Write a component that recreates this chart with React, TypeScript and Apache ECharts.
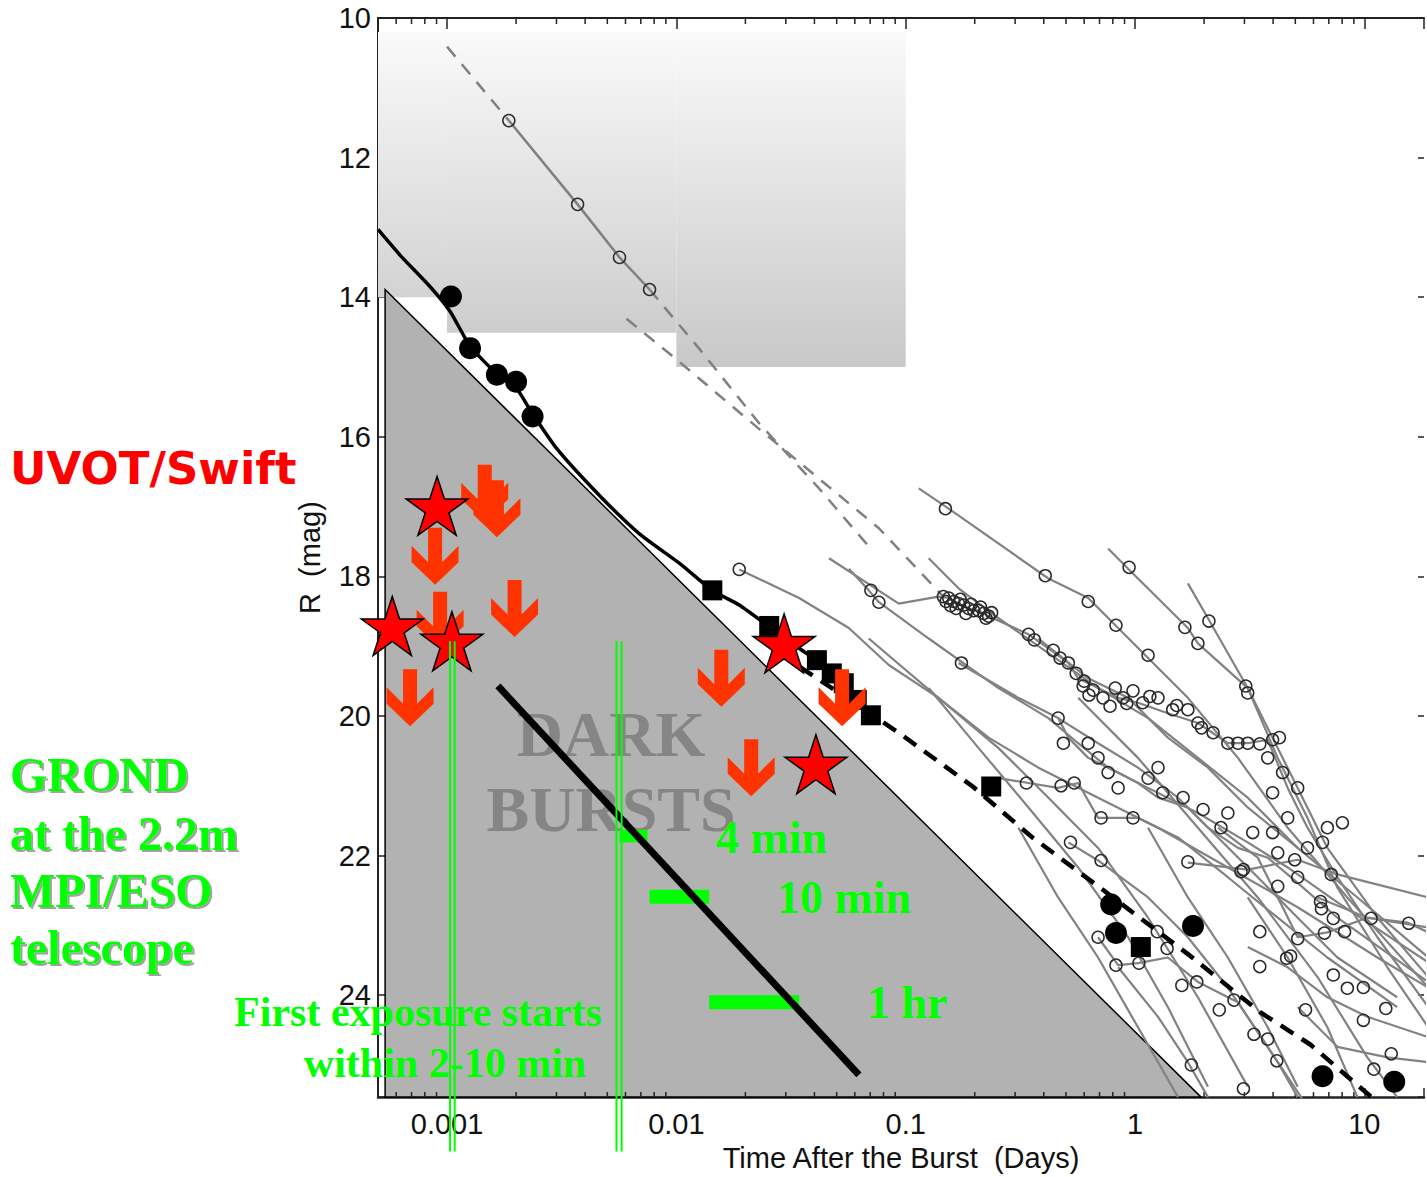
import React, { useEffect, useRef } from 'react';
import * as echarts from 'echarts';

// ---------- axis ranges ----------
const X_MIN = 0.0005;
const X_MAX = 18.2;
const Y_MIN = 10;
const Y_MAX = 25.46;
const GREEN_LINE_BOTTOM = 26.24;

// ---------- data (days after burst, R mag) ----------
const uvotBoxes = [
  // [tStart, tEnd, magTop, magBottom]
  [0.0005, 0.001, 10.2, 14.0],
  [0.001, 0.01, 10.2, 14.51],
  [0.01, 0.1, 10.2, 15.0],
];

const darkTriangle = [
  [0.000537, 13.89],
  [0.000537, 25.46],
  [1.94, 25.46],
];

const brightCurve = [
  [0.0005, 13.03], [0.000625, 13.4], [0.000844, 13.85], [0.00103, 14.2], [0.00126, 14.7],
  [0.00165, 15.1], [0.002, 15.3], [0.00236, 15.67], [0.00301, 16.17], [0.00462, 16.84],
  [0.0069, 17.39], [0.0103, 17.81], [0.01435, 18.2], [0.0188, 18.41], [0.0249, 18.7],
  [0.0343, 19.03], [0.0463, 19.34], [0.0612, 19.74], [0.0705, 20.0],
];
const brightDashed = [
  [0.0281, 19.1], [0.0933, 20.24], [0.196, 21.01], [0.357, 21.74], [0.704, 22.46],
  [1.73, 23.43], [3.5, 24.24], [5.83, 24.71], [11.0, 25.49],
];
const brightDots = [
  [0.00104, 13.99], [0.00126, 14.73], [0.00165, 15.11], [0.002, 15.21], [0.00236, 15.71],
  [0.787, 22.7], [0.826, 23.11], [1.79, 23.01], [6.57, 25.16], [13.5, 25.24],
];
const brightSquares = [
  [0.01435, 18.2], [0.0254, 18.71], [0.041, 19.2], [0.0476, 19.39], [0.0537, 19.53],
  [0.0612, 19.77], [0.0705, 19.99], [0.236, 21.01], [1.06, 23.31],
];

const uvotDashA1 = [[0.001, 10.41], [0.00186, 11.47]];
const uvotSolidA = [[0.00186, 11.47], [0.00371, 12.67], [0.00565, 13.43], [0.00764, 13.89]];
const uvotDashA2 = [[0.00764, 13.89], [0.0126, 14.74], [0.023, 15.81], [0.0419, 16.74], [0.069, 17.57]];
const uvotDashB = [[0.00606, 14.31], [0.01, 14.89], [0.023, 15.89], [0.0419, 16.6], [0.0764, 17.31], [0.146, 18.29]];

const grayCurves = [
  [[0.114, 16.74], [0.154, 17.03], [0.419, 18.03], [0.625, 18.31], [0.844, 18.74], [1.14, 19.17], [1.7, 19.74], [2.81, 20.6], [4.63, 21.6], [8.43, 22.6], [19, 23.89]],
  [[0.763, 17.6], [0.933, 17.89], [1.7, 18.74], [1.88, 18.96], [3.1, 19.6], [4.19, 20.46], [5.12, 21.03], [6.9, 21.89], [11.4, 22.89], [19, 23.74]],
  [[1.7, 18.1], [2.08, 18.6], [3.1, 19.6], [4.19, 20.6], [5.65, 21.46], [7.63, 22.46], [12.6, 23.6], [19, 24.46]],
  [[0.0463, 17.74], [0.0933, 18.39], [0.139, 18.29], [0.154, 18.31], [0.17, 18.39], [0.188, 18.46], [0.208, 18.49], [0.23, 18.57], [0.343, 18.83], [0.419, 19.03], [0.512, 19.24], [0.565, 19.46], [0.69, 19.6], [0.844, 19.74], [1.03, 19.81], [1.39, 19.96], [1.88, 20.1], [2.54, 20.39], [3.1, 20.39], [3.79, 20.34], [4.63, 21.03], [5.65, 21.6], [7.63, 22.31], [11.4, 23.17], [19, 24.17]],
  [[0.0188, 17.9], [0.0343, 18.31], [0.0565, 18.74], [0.0844, 19.27], [0.139, 19.74], [0.23, 20.31], [0.379, 20.74], [0.69, 21.17], [1.26, 21.6], [2.54, 22.17], [5.12, 22.74], [11.4, 23.46], [19, 23.89]],
  [[0.0565, 17.89], [0.069, 18.2], [0.0764, 18.37], [0.126, 18.89], [0.254, 19.6], [0.419, 20.03], [0.565, 20.39], [0.763, 20.74], [1.14, 21.03], [1.88, 21.39], [3.1, 21.81], [4.63, 22.17], [7.63, 22.67], [19, 23.53]],
  [[0.17, 19.24], [0.31, 19.74], [0.462, 20.03], [0.69, 20.39], [1.03, 20.74], [1.54, 21.17], [2.3, 21.74], [3.43, 22.31], [5.12, 22.89], [7.63, 23.46], [13.9, 24.03]],
  [[0.462, 20.03], [0.512, 20.31], [0.625, 20.6], [0.844, 20.81], [1.03, 20.96], [1.26, 21.17], [1.7, 21.31], [2.08, 21.6], [2.81, 21.89], [3.79, 22.03], [5.12, 22.39], [7.63, 22.89], [19, 23.81]],
  [[0.126, 19.6], [0.208, 20.46], [0.343, 21.31], [0.565, 22.17], [0.933, 23.17], [1.39, 24.17], [2.08, 25.31]],
  [[0.069, 18.89], [0.139, 19.74], [0.254, 20.46], [0.419, 21.17], [0.69, 21.89], [1.14, 22.89], [1.88, 24.03], [3.1, 25.31]],
  [[0.254, 20.89], [0.343, 20.96], [0.462, 21.03], [0.565, 20.96], [0.69, 21.46], [1.03, 21.46], [1.54, 21.74], [2.54, 22.31], [4.19, 22.89], [6.9, 23.46], [13.9, 24.17]],
  [[0.512, 21.81], [0.69, 22.07], [1.14, 22.6], [1.7, 23.17], [2.54, 23.89], [3.43, 24.53], [4.63, 25.17], [5.65, 25.6]],
  [[0.69, 23.17], [0.844, 23.57], [1.03, 23.54], [1.39, 23.46], [1.88, 23.81], [2.81, 24.1], [4.19, 24.96], [5.12, 25.46]],
  [[0.844, 23.6], [1.26, 24.31], [1.7, 24.96], [2.08, 25.46]],
  [[1.7, 22.1], [3.1, 22.2], [5.12, 22.06], [7.63, 22.27], [19, 22.6]],
  [[2.3, 21.6], [3.43, 22.03], [5.12, 23.17], [6.9, 23.1], [10.3, 22.89], [19, 23.03]],
  [[3.1, 23.31], [4.63, 23.6], [6.9, 24.03], [10.3, 24.31], [19, 24.6]],
  [[5.12, 24.17], [7.63, 24.74], [12.6, 24.89], [19, 24.96]],
  [[6.25, 22.6], [10.3, 22.89], [15.4, 22.96], [19, 23.1]],
  [[0.31, 21.6], [0.462, 22.6], [0.69, 23.46], [1.03, 24.46], [1.54, 25.46]],
  [[1.14, 21.6], [1.7, 22.6], [2.54, 23.46], [3.79, 24.46], [5.12, 25.31]],
  [[3.1, 22.6], [4.63, 23.46], [6.9, 24.46], [9.33, 25.46]],
  [[0.126, 17.74], [0.17, 18.17], [0.254, 18.6], [0.419, 19.1], [0.69, 19.6], [1.14, 20.03], [1.88, 20.6], [3.1, 21.17], [5.12, 21.89]],
  [[0.379, 18.89], [0.625, 19.46], [0.933, 19.74], [1.39, 20.31], [2.08, 20.74], [3.1, 21.31], [5.12, 21.89], [9.33, 22.6], [19, 23.46]],
  [[0.565, 19.74], [1.03, 20.6], [1.88, 21.6], [3.43, 22.6], [6.25, 23.74], [10.3, 24.89], [13.9, 25.46]],
];

const openCircles = [
  [0.00186, 11.47], [0.00371, 12.67], [0.00565, 13.43], [0.00764, 13.89],
  [0.149, 17.03], [0.406, 17.99], [0.625, 18.36], [0.826, 18.7], [1.14, 19.13], [0.942, 17.87],
  [1.65, 18.73], [1.88, 18.96], [2.1, 18.64], [3.04, 19.57], [3.1, 19.67], [0.0188, 17.9],
  [0.0705, 18.2], [0.0764, 18.37],
  [0.146, 18.29], [0.154, 18.31], [0.162, 18.36], [0.17, 18.39], [0.179, 18.41], [0.188, 18.46],
  [0.198, 18.49], [0.208, 18.49], [0.219, 18.53], [0.23, 18.57], [0.15, 18.36], [0.166, 18.46], [0.183, 18.53],
  [0.343, 18.83], [0.364, 18.91], [0.44, 19.06], [0.471, 19.17], [0.512, 19.24], [0.554, 19.39],
  [0.594, 19.57], [0.657, 19.63], [0.725, 19.74], [0.778, 19.86], [0.887, 19.74], [0.98, 19.64],
  [1.08, 19.81], [1.26, 19.74], [1.46, 19.91], [1.7, 19.91], [1.88, 20.1], [2.19, 20.24],
  [2.54, 20.39], [2.81, 20.39], [3.1, 20.39], [3.5, 20.4], [3.98, 20.34], [4.26, 20.31],
  [3.79, 20.6], [4.4, 20.81], [5.12, 21.03], [3.98, 21.1], [4.63, 21.46], [5.65, 21.89],
  [6.57, 21.81], [6.9, 21.6], [8.02, 21.53],
  [0.175, 19.24], [0.336, 20.96], [0.476, 21.0], [0.543, 20.96], [0.711, 21.46], [0.98, 21.46],
  [1.26, 20.74], [0.523, 21.81], [0.711, 22.07], [1.7, 22.09], [2.97, 22.2], [4.97, 22.06],
  [2.37, 21.6], [4.19, 21.96], [5.12, 22.31], [0.69, 23.17], [0.826, 23.57], [1.04, 23.54],
  [1.25, 23.09], [1.38, 23.33], [1.6, 23.86], [1.86, 23.81], [2.33, 24.21], [2.7, 24.07],
  [3.3, 24.56], [3.79, 24.63], [4.15, 24.94], [1.76, 25.0], [2.97, 25.34], [3.5, 23.59],
  [4.77, 23.44], [5.54, 24.21], [7.32, 23.71], [8.43, 23.9], [9.9, 23.89], [9.9, 24.36],
  [12.4, 24.19], [13.1, 24.84], [11.0, 25.06], [15.6, 22.97], [10.7, 22.9], [8.2, 23.09],
  [6.7, 23.11], [7.32, 22.9], [5.12, 23.19], [4.58, 23.47], [6.44, 22.66], [6.5, 22.76],
  [3.5, 23.09], [2.9, 22.23], [4.19, 22.44], [7.17, 22.27],
  [1.14, 20.89], [1.32, 21.1], [1.62, 21.17], [1.98, 21.34], [2.54, 21.39], [3.26, 21.67], [3.98, 21.67],
  [0.462, 20.03], [0.487, 20.39], [0.625, 20.39], [0.69, 20.6], [0.763, 20.81], [0.844, 21.03],
  [0.157, 18.42], [0.173, 18.33], [0.193, 18.4], [0.212, 18.44], [0.224, 18.6], [0.237, 18.52],
  [0.6, 19.5], [0.63, 19.7], [0.82, 19.6], [0.92, 19.82], [1.16, 19.72], [1.52, 19.85], [1.95, 20.17],
];

const uvotUpperLimits = [
  [0.00146, 16.81], [0.00165, 17.03], [0.000887, 17.71], [0.000933, 18.63], [0.00197, 18.46],
  [0.00069, 19.74], [0.0157, 19.46], [0.0212, 20.74], [0.0528, 19.74],
];
const uvotDetections = [
  [0.000905, 16.99], [0.000577, 18.71], [0.00105, 18.93], [0.0295, 18.96], [0.0406, 20.69],
];

const darkLine = [[0.001667, 19.57], [0.0625, 25.14]];
const exposureBars = [
  // [tStart, tEnd, magTop, magBottom]
  [0.00565, 0.00748, 21.63, 21.81],
  [0.00764, 0.0139, 22.49, 22.69],
  [0.0139, 0.0343, 24.0, 24.2],
];
const exposureStartLines = [
  [0.00103, 18.93], [0.00108, 18.93], [0.00548, 18.93], [0.00577, 18.93],
];

const minorTickValues: number[] = [];
for (let e = -4; e <= 1; e++) {
  for (let m = 2; m <= 9; m++) {
    const v = m * Math.pow(10, e);
    if (v > X_MIN && v < X_MAX) minorTickValues.push(v);
  }
}

const STAR_PATH =
  'path://M0,-50 L11.23,-15.45 L47.55,-15.45 L18.17,5.9 L29.39,40.45 L0,19.1 L-29.39,40.45 L-18.17,5.9 L-47.55,-15.45 L-11.23,-15.45 Z';
const ARROW_PATH =
  'path://M-7,-28.5 L7,-28.5 L7,6 L23.5,-10.5 L23.5,6 L0,28.5 L-23.5,6 L-23.5,-10.5 L-7,6 Z';

const boxBottomColors = ['#d3d3d3', '#cdcdcd', '#c8c8c8'];

function xLabel(v: number): string {
  const l = Math.log10(v);
  const r = Math.round(l);
  if (Math.abs(l - r) > 1e-6) return '';
  return r >= 0 ? String(Math.round(Math.pow(10, r))) : Math.pow(10, r).toFixed(-r);
}

function txt(text: string, x: number, y: number, font: string, fill: string, align: string, z: number, shadow = false) {
  const style: any = {
    text, font, fill,
    align, verticalAlign: 'middle',
    textAlign: align, textVerticalAlign: 'middle',
  };
  if (shadow) {
    style.textShadowColor = 'rgba(120,120,120,0.7)';
    style.textShadowOffsetX = 2;
    style.textShadowOffsetY = 2;
    style.textShadowBlur = 1;
  }
  return { type: 'text', x, y, z, style };
}

export default function App() {
  const ref = useRef<HTMLDivElement>(null);

  useEffect(() => {
    if (!ref.current) return;
    const chart = echarts.init(ref.current, null, { renderer: 'svg' });
    const axisFont = { fontFamily: '"Liberation Sans", Arial, sans-serif', fontSize: 29, color: '#111' };

    const option: any = {
      animation: false,
      backgroundColor: '#ffffff',
      grid: { left: 378, top: 18, width: 1049, height: 1082, containLabel: false },
      xAxis: [
        {
          type: 'log', logBase: 10, min: X_MIN, max: X_MAX, position: 'bottom',
          name: 'Time After the Burst \u00a0(Days)', nameLocation: 'middle', nameGap: 44,
          nameTextStyle: { ...axisFont },
          axisLine: { show: true, onZero: false, lineStyle: { color: '#222', width: 2.5 } },
          axisTick: { show: true, inside: true, length: 9, lineStyle: { color: '#222', width: 1.5 } },
          axisLabel: { ...axisFont, margin: 12, formatter: xLabel },
          splitLine: { show: false },
          minorTick: { show: false },
        },
        {
          type: 'log', logBase: 10, min: X_MIN, max: X_MAX, position: 'top',
          axisLine: { show: true, onZero: false, lineStyle: { color: '#222', width: 2 } },
          axisTick: { show: true, inside: true, length: 11, lineStyle: { color: '#222', width: 1.5 } },
          axisLabel: { show: false },
          splitLine: { show: false },
        },
      ],
      yAxis: [
        {
          type: 'value', inverse: true, min: Y_MIN, max: Y_MAX, interval: 2, position: 'left',
          name: 'R \u00a0(mag)', nameLocation: 'middle', nameGap: 54, nameRotate: 90,
          nameTextStyle: { ...axisFont },
          axisLine: { show: true, onZero: false, lineStyle: { color: '#222', width: 2 } },
          axisTick: { show: true, inside: true, length: 8, lineStyle: { color: '#222', width: 1.5 } },
          axisLabel: {
            ...axisFont, margin: 7,
            formatter: (v: number) => (Math.abs(v - Math.round(v)) < 1e-6 && Math.round(v) % 2 === 0 && v <= 24 ? String(Math.round(v)) : ''),
          },
          splitLine: { show: false },
        },
        {
          type: 'value', inverse: true, min: Y_MIN, max: Y_MAX, interval: 2, position: 'right',
          axisLine: { show: false },
          axisTick: { show: true, inside: true, length: 6, lineStyle: { color: '#222', width: 1.5 } },
          axisLabel: { show: false },
          splitLine: { show: false },
        },
      ],
      series: [
        {
          type: 'custom', name: 'uvotBoxes', z: 1, silent: true,
          encode: { x: [0, 1], y: [2, 3] },
          data: uvotBoxes,
          renderItem: (params: any, api: any) => {
            const p0 = api.coord([api.value(0), api.value(2)]);
            const p1 = api.coord([api.value(1), api.value(3)]);
            return {
              type: 'rect',
              shape: { x: p0[0], y: p0[1], width: p1[0] - p0[0], height: p1[1] - p0[1] },
              style: {
                fill: new echarts.graphic.LinearGradient(0, 0, 0, 1, [
                  { offset: 0, color: '#fafafa' },
                  { offset: 1, color: boxBottomColors[params.dataIndex] },
                ]),
              },
            };
          },
        },
        {
          type: 'custom', name: 'darkTriangle', z: 1, silent: true,
          data: darkTriangle,
          renderItem: (params: any, api: any) => {
            if (params.dataIndex !== 0) return { type: 'group', children: [] };
            const pts = darkTriangle.map((p) => api.coord(p));
            return { type: 'polygon', shape: { points: pts }, style: { fill: '#b2b2b2', stroke: '#000', lineWidth: 1.5 } };
          },
        },
        {
          type: 'custom', name: 'minorTicks', z: 3, silent: true,
          data: minorTickValues.map((v) => [v, 20]),
          renderItem: (params: any, api: any) => {
            const v = api.value(0);
            const pb = api.coord([v, Y_MAX]);
            const pt = api.coord([v, Y_MIN]);
            return {
              type: 'group',
              children: [
                { type: 'line', shape: { x1: pb[0], y1: pb[1], x2: pb[0], y2: pb[1] - 5 }, style: { stroke: '#222', lineWidth: 1.5 } },
                { type: 'line', shape: { x1: pt[0], y1: pt[1], x2: pt[0], y2: pt[1] + 6 }, style: { stroke: '#222', lineWidth: 1.5 } },
              ],
            };
          },
        },
        { type: 'line', name: 'uvotDashA1', z: 3, data: uvotDashA1, symbol: 'none', lineStyle: { color: '#808080', width: 2.5, type: [13, 10] } },
        { type: 'line', name: 'uvotSolidA', z: 3, data: uvotSolidA, symbol: 'none', lineStyle: { color: '#808080', width: 2.5 } },
        { type: 'line', name: 'uvotDashA2', z: 3, data: uvotDashA2, symbol: 'none', lineStyle: { color: '#808080', width: 2.5, type: [13, 10] } },
        { type: 'line', name: 'uvotDashB', z: 3, data: uvotDashB, symbol: 'none', lineStyle: { color: '#808080', width: 2.5, type: [13, 10] } },
        ...grayCurves.map((c, i) => ({
          type: 'line', name: 'gray' + i, z: 3, data: c, symbol: 'none',
          lineStyle: { color: '#828282', width: 2.2 },
        })),
        {
          type: 'scatter', name: 'openCircles', z: 4, data: openCircles, symbol: 'circle', symbolSize: 12,
          itemStyle: { color: 'rgba(255,255,255,0)', borderColor: '#2a2a2a', borderWidth: 1.5, opacity: 1 },
        },
        {
          type: 'custom', name: 'exposureBars', z: 4, silent: true,
          encode: { x: [0, 1], y: [2, 3] },
          data: exposureBars,
          renderItem: (params: any, api: any) => {
            const p0 = api.coord([api.value(0), api.value(2)]);
            const p1 = api.coord([api.value(1), api.value(3)]);
            return { type: 'rect', shape: { x: p0[0], y: p0[1], width: p1[0] - p0[0], height: p1[1] - p0[1] }, style: { fill: '#00ff00' } };
          },
        },
        { type: 'line', name: 'brightCurve', z: 5, data: brightCurve, symbol: 'none', smooth: 0.2, lineStyle: { color: '#000', width: 3.5 } },
        { type: 'line', name: 'brightDashed', z: 5, data: brightDashed, symbol: 'none', lineStyle: { color: '#000', width: 4.5, type: [15, 10] } },
        { type: 'scatter', name: 'brightDots', z: 5, data: brightDots, symbol: 'circle', symbolSize: 22, itemStyle: { color: '#000', opacity: 1 } },
        { type: 'scatter', name: 'brightSquares', z: 5, data: brightSquares, symbol: 'rect', symbolSize: 20, itemStyle: { color: '#000', opacity: 1 } },
        { type: 'line', name: 'darkLine', z: 5, data: darkLine, symbol: 'none', lineStyle: { color: '#000', width: 7 } },
        {
          type: 'scatter', name: 'upperLimits', z: 6, data: uvotUpperLimits, symbol: ARROW_PATH, symbolSize: [47, 57],
          itemStyle: { color: '#ff3300', opacity: 1 },
        },
        {
          type: 'scatter', name: 'detections', z: 7, data: uvotDetections, symbol: STAR_PATH, symbolSize: [62, 59],
          itemStyle: { color: '#ff0000', borderColor: '#000', borderWidth: 1.5, opacity: 1 },
        },
        {
          type: 'custom', name: 'exposureStart', z: 8, silent: true, clip: false,
          data: exposureStartLines,
          renderItem: (params: any, api: any) => {
            const p0 = api.coord([api.value(0), api.value(1)]);
            const p1 = api.coord([api.value(0), GREEN_LINE_BOTTOM]);
            return { type: 'line', shape: { x1: p0[0], y1: p0[1], x2: p1[0], y2: p1[1] }, style: { stroke: '#00ff00', lineWidth: 2 } };
          },
        },
      ],
      graphic: {
        elements: [
          txt('DARK', 611, 734, 'bold 64px "Liberation Serif", serif', '#858585', 'center', 2),
          txt('BURSTS', 611, 809, 'bold 64px "Liberation Serif", serif', '#858585', 'center', 2),
          txt('UVOT/Swift', 10, 468, 'bold 45px "DejaVu Sans", sans-serif', '#ff0000', 'left', 9),
          txt('GROND', 10, 774, 'bold 48px "Liberation Serif", serif', '#00ff00', 'left', 9, true),
          txt('at the 2.2m', 10, 833, 'bold 48px "Liberation Serif", serif', '#00ff00', 'left', 9, true),
          txt('MPI/ESO', 10, 890, 'bold 48px "Liberation Serif", serif', '#00ff00', 'left', 9, true),
          txt('telescope', 10, 947, 'bold 48px "Liberation Serif", serif', '#00ff00', 'left', 9, true),
          txt('First exposure starts', 418, 1012, 'bold 42px "Liberation Serif", serif', '#00ff00', 'center', 9),
          txt('within 2-10 min', 445, 1063, 'bold 42px "Liberation Serif", serif', '#00ff00', 'center', 9),
          txt('4 min', 716, 837, 'bold 46px "Liberation Serif", serif', '#00ff00', 'left', 9),
          txt('10 min', 777, 897, 'bold 46px "Liberation Serif", serif', '#00ff00', 'left', 9),
          txt('1 hr', 867, 1002, 'bold 46px "Liberation Serif", serif', '#00ff00', 'left', 9),
        ],
      },
    };

    chart.setOption(option);
    return () => chart.dispose();
  }, []);

  return <div ref={ref} style={{ position: 'absolute', left: 0, top: 0, width: 1427, height: 1177 }} />;
}
